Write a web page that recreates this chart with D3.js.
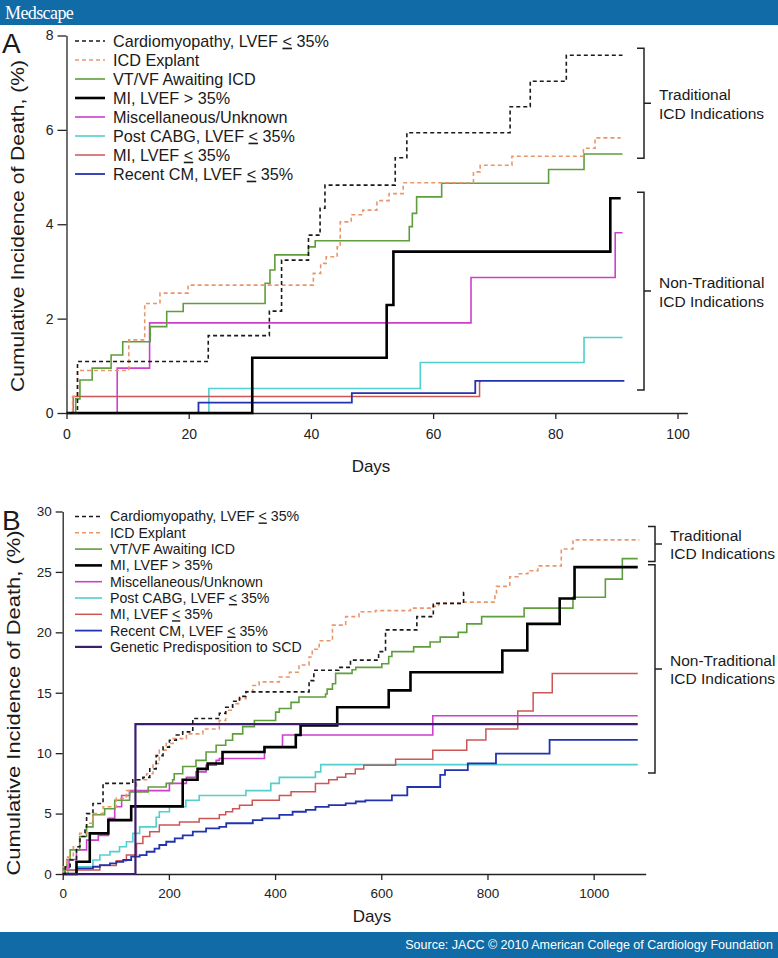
<!DOCTYPE html>
<html><head><meta charset="utf-8">
<script src="https://cdn.jsdelivr.net/npm/d3@7"></script>
<style>
body{margin:0;background:#fff}
svg{display:block}
text{font-family:Arial,"Liberation Sans",Helvetica,sans-serif;fill:#1a1a1a}
</style></head>
<body><svg id="c" width="778" height="958"></svg>
<script>
// ---------------- DATA ----------------
const seriesKeys = ["cm","icd","vtvf","mi_hi","misc","cabg","mi_lo","recent","genetic"];
const seriesLabels = ["Cardiomyopathy, LVEF ≤ 35%","ICD Explant","VT/VF Awaiting ICD","MI, LVEF > 35%","Miscellaneous/Unknown","Post CABG, LVEF ≤ 35%","MI, LVEF ≤ 35%","Recent CM, LVEF ≤ 35%","Genetic Predisposition to SCD"];

// Panel A : [day, cumulative %]
const A_cm = [[0,0],[1.8,1.09],[23.2,1.64],[33.2,2.16],[35.2,3.24],[39.6,3.77],[41.5,4.34],[42.3,4.83],[53.8,5.41],[55.7,5.94],[72.6,6.49],[75.9,7.03],[81.8,7.58],[91,7.58]];
const A_icd = [[0,0],[1,0.35],[1.8,0.9],[10.2,1.55],[12.8,2.32],[15.3,2.54],[19.9,2.71],[40.4,2.96],[41.6,3.17],[42.5,3.31],[44.3,3.52],[44.8,4.05],[46.6,4.2],[48.5,4.3],[50.8,4.5],[52.8,4.65],[55.1,4.88],[66.6,5.11],[67.7,5.25],[72.9,5.44],[84.6,5.61],[86.5,5.83],[90.7,5.83]];
const A_vtvf = [[0,0],[1.5,0.3],[2.2,0.7],[4.2,0.95],[7.3,1.23],[9.2,1.51],[13.7,1.83],[16.4,2.15],[19.1,2.32],[32.5,2.75],[33.3,3.03],[34.1,3.35],[39.6,3.52],[40.7,3.65],[56.1,3.95],[56.6,4.23],[57.3,4.58],[61.4,4.87],[78.9,5.16],[84.7,5.49],[91,5.49]];
const A_mi_hi = [[0,0],[30.4,1.17],[52.4,2.29],[53.5,3.42],[89,4.55],[90.7,4.55]];
const A_misc = [[0,0],[8.3,0.95],[13.6,1.91],[66.2,2.87],[89.8,3.82],[91,3.82]];
const A_cabg = [[0,0],[23.3,0.52],[57.9,1.07],[84.7,1.6],[91,1.6]];
const A_mi_lo = [[0,0],[1.1,0.35],[67.6,0.66],[67.8,0.66]];
const A_recent = [[0,0],[21.6,0.22],[46.7,0.42],[66.9,0.68],[91.3,0.68]];

// Panel B : [day, cumulative %]
const B_cm = [[0,0],[5,0.6],[14,1.16],[26,2.26],[32.5,3.1],[42,3.9],[45,5.0],[57,5.84],[76,7.5],[132,7.8],[151,8.0],[164,8.7],[176,9.8],[189,10.5],[201,11.07],[214,11.5],[226,11.76],[239,11.9],[245,12.87],[295,13.3],[307,13.8],[320,14.3],[333,14.7],[345,15.07],[464,16.0],[473,16.86],[520,17.1],[542,17.7],[595,18.4],[608,20.2],[667,21.3],[698,22.4],[755,23.3],[760,23.3]];
const B_icd = [[0,0],[1,0.6],[7.5,1.4],[20,2.26],[32,3.36],[45,4.2],[57,5.0],[76,5.56],[101,6.26],[120,6.9],[139,7.8],[158,8.3],[170,9.15],[182,10.25],[195,10.8],[208,11.2],[233,11.6],[264,12.0],[295,12.7],[307,13.55],[320,14.1],[333,14.5],[345,15.1],[358,15.6],[370,15.9],[408,16.3],[427,16.7],[445,17.3],[464,17.96],[470,18.6],[483,19.3],[508,20.6],[533,21.3],[558,21.7],[589,21.8],[655,22.0],[695,22.15],[708,22.4],[755,22.5],[814,23.0],[817,23.8],[842,24.6],[858,24.85],[876,25.1],[895,25.5],[939,26.9],[961,27.65],[1086,27.65]];
const B_vtvf = [[0,0],[3,0.6],[8,1.2],[14,2.0],[32,3.1],[45,3.9],[57,4.9],[79,5.4],[98,6.1],[126,6.8],[161,7.2],[195,7.5],[207,7.8],[210,8.3],[226,8.9],[251,9.4],[270,10.1],[289,10.66],[307,11.07],[320,11.6],[339,12.2],[361,12.7],[401,13.4],[408,13.7],[430,14.2],[445,14.65],[495,14.9],[498,15.3],[508,15.75],[514,16.6],[545,16.9],[552,17.1],[601,17.4],[614,18.0],[620,18.4],[661,18.8],[692,19.2],[711,19.6],[745,20.0],[761,20.7],[789,21.3],[869,22.0],[961,22.9],[1022,24.4],[1054,26.1],[1083,26.1]];
const B_mi_hi = [[0,0],[26,1.02],[51,3.36],[86,4.46],[129,5.6],[226,7.8],[254,8.7],[273,9.15],[301,10.1],[380,10.5],[439,11.5],[448,12.3],[517,13.8],[614,15.2],[655,16.7],[828,18.5],[875,20.7],[936,22.8],[964,25.4],[1083,25.4]];
const B_misc = [[0,0],[3,0.5],[12,1.2],[26,2.0],[45,2.8],[67,3.2],[86,4.6],[98,5.56],[111,6.5],[126,6.9],[201,7.5],[233,8.0],[251,8.45],[270,9.0],[289,9.4],[295,9.56],[380,10.5],[414,11.5],[697,13.1],[1083,13.1]];
const B_cabg = [[0,0],[10,0.3],[26,0.6],[57,1.16],[70,1.57],[89,1.85],[107,2.26],[120,2.67],[132,3.36],[145,3.9],[176,4.7],[182,5.15],[201,5.56],[232,6.1],[257,6.5],[345,6.9],[392,7.5],[408,8.0],[476,8.45],[486,9.05],[1083,9.05]];
const B_mi_lo = [[0,0],[5,0.33],[70,0.7],[101,1.1],[120,1.57],[139,2.53],[151,3.1],[164,3.5],[182,4.05],[220,4.3],[257,4.6],[295,4.9],[307,5.15],[320,5.4],[333,5.7],[357,6.1],[408,6.5],[430,6.8],[476,7.5],[501,7.8],[517,8.0],[533,8.3],[551,8.7],[567,9.0],[627,9.5],[697,10.25],[761,11.1],[797,12.0],[857,13.5],[886,15.0],[922,16.6],[1083,16.6]];
const B_recent = [[0,0],[26,0.47],[57,0.6],[70,0.74],[89,0.88],[101,1.0],[114,1.16],[129,1.43],[145,1.57],[158,1.84],[173,2.1],[182,2.4],[195,2.67],[211,2.95],[226,3.2],[245,3.5],[270,3.78],[295,3.9],[308,4.2],[358,4.46],[376,4.6],[408,4.9],[433,5.15],[458,5.3],[476,5.56],[501,5.7],[533,5.84],[552,6.0],[570,6.1],[620,6.5],[649,7.2],[711,8.2],[720,8.6],[763,9.15],[816,9.97],[917,11.1],[1083,11.1]];
const B_genetic = [[0,0],[137,12.4],[1083,12.4]];

const xTicksA = [0,20,40,60,80,100];
const yTicksA = [0,2,4,6,8];
const xTicksB = [0,200,400,600,800,1000];
const yTicksB = [0,5,10,15,20,25,30];

const bracketLabels = ["Traditional","ICD Indications"];
const bracketLabels2 = ["Non-Traditional","ICD Indications"];
const bracketsA = [{from:7.73,to:5.40,lines:bracketLabels},{from:4.68,to:0.49,lines:bracketLabels2}];
const bracketsB = [{from:28.76,to:25.87,lines:bracketLabels},{from:25.6,to:8.35,lines:bracketLabels2}];

const headerText = "Medscape";
const footerText = "Source: JACC © 2010 American College of Cardiology Foundation";
const yTitle = "Cumulative Incidence of Death, (%)";
const xTitle = "Days";

// ---------------- STYLE ----------------
const styles = {
  cm:{color:"#1a1a1a",w:1.6,dash:"4,3"},
  icd:{color:"#e9966b",w:1.6,dash:"4,3"},
  vtvf:{color:"#5f9e3c",w:1.6},
  mi_hi:{color:"#000000",w:2.6},
  misc:{color:"#cc40cc",w:1.6},
  cabg:{color:"#52cfcf",w:1.6},
  mi_lo:{color:"#cc5555",w:1.5},
  recent:{color:"#2233b0",w:1.8},
  genetic:{color:"#3b1f6e",w:2.2}
};

const svg = d3.select("#c");

// header & footer
svg.append("rect").attr("x",0).attr("y",0).attr("width",778).attr("height",25).attr("fill","#106ba6");
svg.append("text").attr("x",5).attr("y",19).text(headerText)
  .style("font-family","'Liberation Serif','Times New Roman',serif").style("font-size","18px")
  .style("fill","#fff").style("letter-spacing","-0.6px");
svg.append("rect").attr("x",0).attr("y",932).attr("width",778).attr("height",26).attr("fill","#106ba6");
svg.append("text").attr("x",773).attr("y",949).attr("text-anchor","end").text(footerText)
  .style("font-size","12.5px").style("fill","#fff");

function addLabel(g, label, x, y, size){
  const t = g.append("text").attr("x",x).attr("y",y).attr("dy","0.35em").style("font-size",size+"px");
  const parts = label.split("≤");
  t.append("tspan").text(parts[0]);
  for(let i=1;i<parts.length;i++){
    t.append("tspan").text("<").style("text-decoration","underline");
    t.append("tspan").text(parts[i]);
  }
}

function panel(cfg){
  const g = svg.append("g");
  const x = d3.scaleLinear().domain(cfg.xDomain).range(cfg.xRange);
  const y = d3.scaleLinear().domain(cfg.yDomain).range(cfg.yRange);

  // axes
  const ax = g.append("g").attr("transform",`translate(0,${cfg.yRange[0]})`)
    .call(d3.axisBottom(x).tickValues(cfg.xTicks).tickFormat(d3.format("d")).tickSize(6).tickSizeOuter(0).tickPadding(cfg.xPad));
  const ay = g.append("g").attr("transform",`translate(${cfg.xRange[0]},0)`)
    .call(d3.axisLeft(y).tickValues(cfg.yTicks).tickFormat(d3.format("d")).tickSize(cfg.yTick).tickSizeOuter(0).tickPadding(4));
  [ax,ay].forEach(a=>{
    a.selectAll("path,line").attr("stroke","#222").attr("stroke-width",1.3);
    a.selectAll("text").style("font-size",cfg.tickFont+"px").style("fill","#222").style("font-family","Arial,'Liberation Sans',sans-serif");
  });

  const line = d3.line().x(d=>x(d[0])).y(d=>y(d[1])).curve(d3.curveStepAfter);
  cfg.drawOrder.forEach(k=>{
    const s = styles[k];
    g.append("path").datum(cfg.data[k]).attr("d",line).attr("fill","none")
      .attr("stroke",s.color).attr("stroke-width",s.w)
      .attr("stroke-dasharray",s.dash||null);
  });

  // legend
  cfg.legendKeys.forEach((k,i)=>{
    const s = styles[k];
    const cy = cfg.legY + i*cfg.legStep;
    g.append("line").attr("x1",75).attr("x2",cfg.legX-8).attr("y1",cy).attr("y2",cy)
      .attr("stroke",s.color).attr("stroke-width",s.w).attr("stroke-dasharray",s.dash||null);
    addLabel(g, seriesLabels[seriesKeys.indexOf(k)], cfg.legX, cy, cfg.legFont);
  });

  // brackets
  cfg.brackets.forEach(b=>{
    const top=y(b.from), bot=y(b.to), mid=(top+bot)/2, bx=cfg.brX;
    g.append("path").attr("d",`M${bx-7},${top}H${bx}V${bot}H${bx-7}M${bx},${mid}H${bx+7}`)
      .attr("fill","none").attr("stroke","#222").attr("stroke-width",1.5);
    b.lines.forEach((t,i)=>{
      g.append("text").attr("x",bx+15).attr("y",mid-3+ (i*18.5)).text(t).style("font-size","15.5px");
    });
  });

  // titles
  g.append("text").attr("x",cfg.xTitleX).attr("y",cfg.xTitleY)
    .attr("text-anchor","middle").text(xTitle).style("font-size","17px");
  g.append("text").attr("transform",`translate(${cfg.yTitleX},${cfg.yTitleY}) rotate(-90)`)
    .attr("text-anchor","middle").text(yTitle).style("font-size","18.5px")
    .attr("textLength",cfg.yTitleLen).attr("lengthAdjust","spacingAndGlyphs");
  g.append("text").attr("x",2).attr("y",cfg.letterY).text(cfg.letter).style("font-size","28px");
}

panel({
  xDomain:[0,101.6], xRange:[66.5,687.3], yDomain:[0,8], yRange:[413,35.5],
  xTicks:xTicksA, yTicks:yTicksA, xPad:10, yTick:9, tickFont:14,
  data:{cm:A_cm,icd:A_icd,vtvf:A_vtvf,mi_hi:A_mi_hi,misc:A_misc,cabg:A_cabg,mi_lo:A_mi_lo,recent:A_recent},
  drawOrder:["cabg","mi_lo","recent","misc","vtvf","icd","mi_hi","cm"],
  legendKeys:["cm","icd","vtvf","mi_hi","misc","cabg","mi_lo","recent"],
  legX:113, legY:41, legStep:19, legFont:16.2,
  brackets:bracketsA, brX:644,
  xTitleX:371, xTitleY:472, yTitleX:24, yTitleY:226, yTitleLen:332, letter:"A", letterY:53
});

panel({
  xDomain:[0,1098], xRange:[62.7,645.7], yDomain:[0,30], yRange:[874,511.5],
  xTicks:xTicksB, yTicks:yTicksB, xPad:8, yTick:7, tickFont:13.5,
  data:{cm:B_cm,icd:B_icd,vtvf:B_vtvf,mi_hi:B_mi_hi,misc:B_misc,cabg:B_cabg,mi_lo:B_mi_lo,recent:B_recent,genetic:B_genetic},
  drawOrder:["cabg","mi_lo","recent","misc","vtvf","icd","mi_hi","genetic","cm"],
  legendKeys:["cm","icd","vtvf","mi_hi","misc","cabg","mi_lo","recent","genetic"],
  legX:110, legY:516.5, legStep:16.3, legFont:14.2,
  brackets:bracketsB, brX:655,
  xTitleX:372, xTitleY:922, yTitleX:20, yTitleY:703, yTitleLen:345, letter:"B", letterY:530
});
</script></body></html>
